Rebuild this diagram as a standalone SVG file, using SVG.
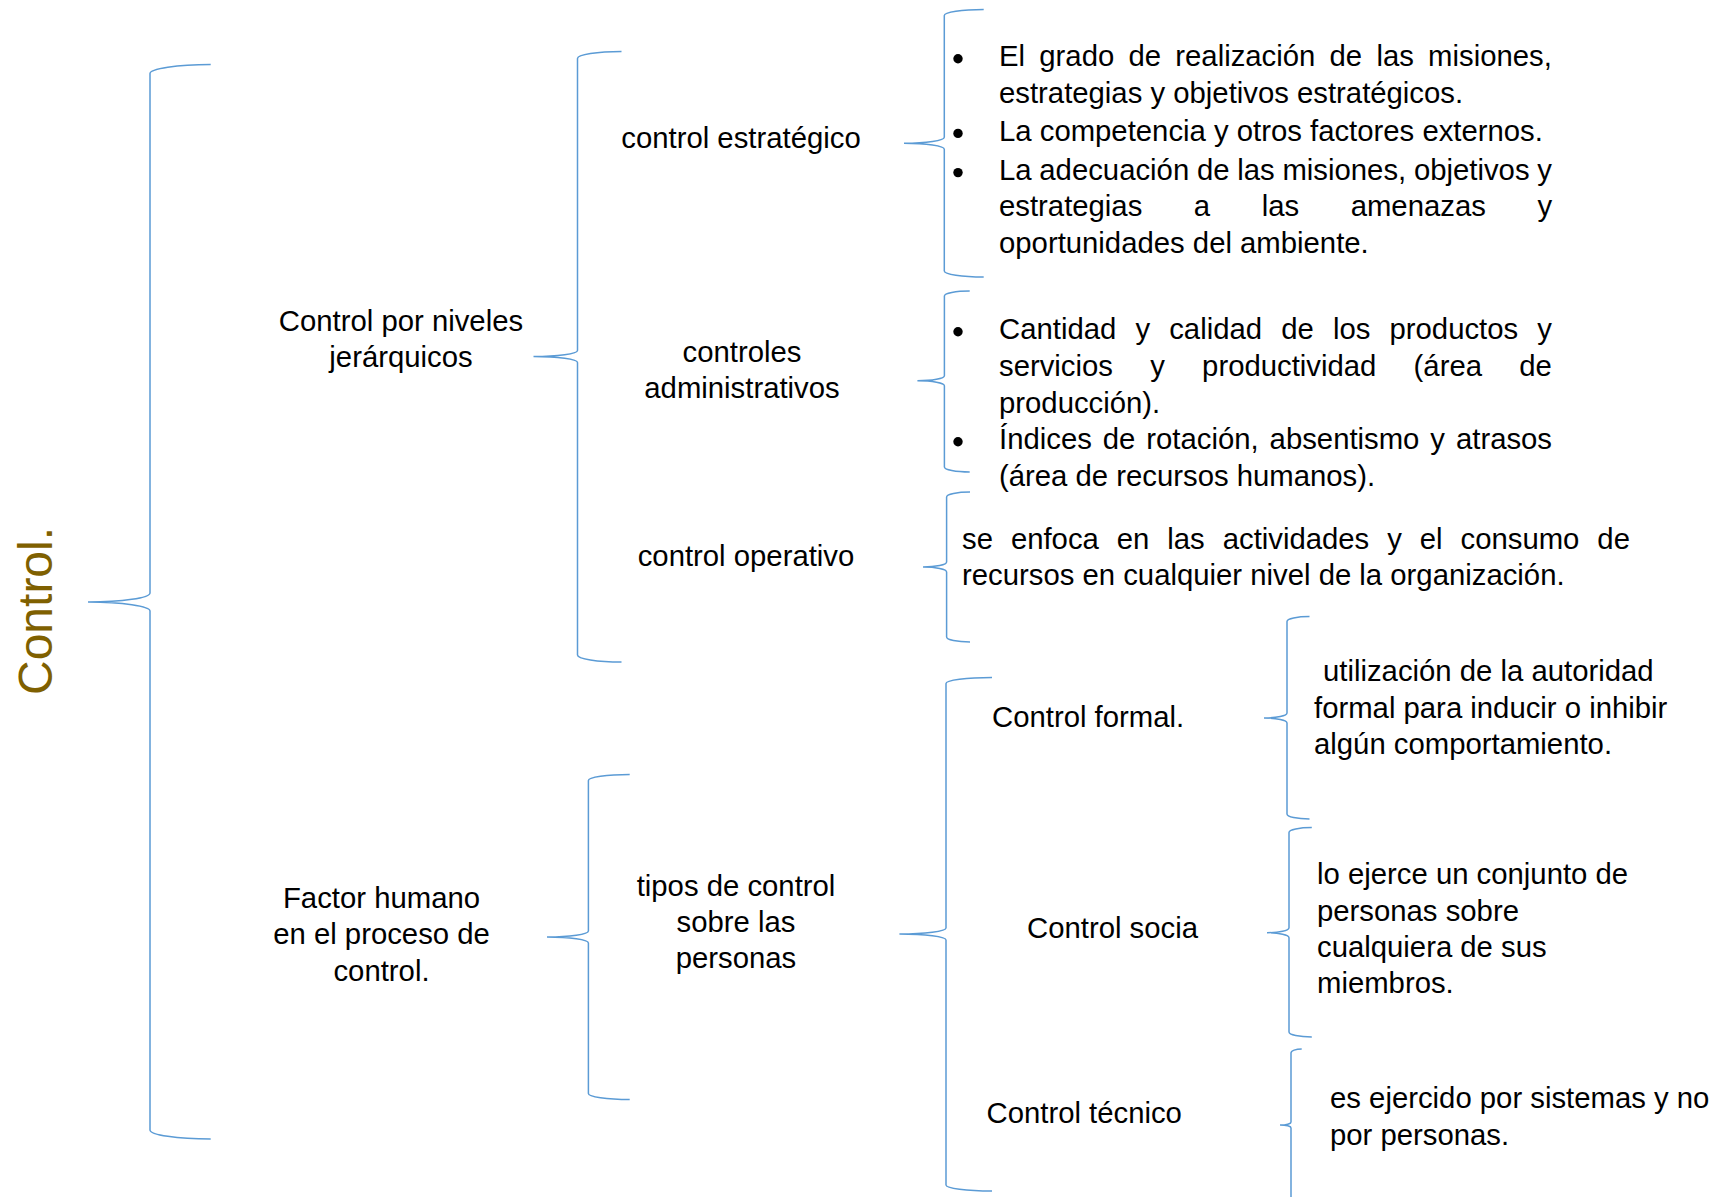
<svg xmlns="http://www.w3.org/2000/svg" width="1731" height="1197" viewBox="0 0 1731 1197">
<style>
.b{fill:none;stroke:#5B9BD5;stroke-width:1.5}
text{font-family:"Liberation Sans",Arial,sans-serif;font-size:29.3px;fill:#000}
.c{text-anchor:middle}
.title{font-size:48px;fill:#7F6000}
.dot{fill:#000}
</style>
<rect width="1731" height="1197" fill="#fff"/>
<g id="connectors">
<path class="b" d="M210.7 64.5 A60.7 9 0 0 0 150 73.5 L150 593 A62 9 0 0 1 88 602 A62 9 0 0 1 150 611 L150 1130 A60.7 9 0 0 0 210.7 1139"/>
<path class="b" d="M621.5 51.5 A44 7 0 0 0 577.5 58.5 L577.5 350.5 A44 6 0 0 1 533.5 356.5 A44 6 0 0 1 577.5 362.5 L577.5 655 A44 7 0 0 0 621.5 662"/>
<path class="b" d="M983.7 9.5 A39.4 6 0 0 0 944.3 15.5 L944.3 137.3 A40.3 6 0 0 1 904 143.3 A40.3 6 0 0 1 944.3 149.3 L944.3 271 A39.4 6 0 0 0 983.7 277"/>
<path class="b" d="M969.7 291 A25.3 5 0 0 0 944.4 296 L944.4 375.8 A27 5 0 0 1 917.4 380.8 A27 5 0 0 1 944.4 385.8 L944.4 467 A25.3 5 0 0 0 969.7 472"/>
<path class="b" d="M970 492 A23.4 5 0 0 0 946.6 497 L946.6 562 A23.6 5 0 0 1 923 567 A23.6 5 0 0 1 946.6 572 L946.6 637 A23.4 5 0 0 0 970 642"/>
<path class="b" d="M629.7 774.5 A41.3 6 0 0 0 588.4 780.5 L588.4 931 A41.4 6 0 0 1 547 937 A41.4 6 0 0 1 588.4 943 L588.4 1093.5 A41.3 6 0 0 0 629.7 1099.5"/>
<path class="b" d="M992 677.5 A46 6 0 0 0 946 683.5 L946 928 A46.6 6 0 0 1 899.4 934 A46.6 6 0 0 1 946 940 L946 1185 A46 6 0 0 0 992 1191"/>
<path class="b" d="M1309.5 616.5 A22.5 5 0 0 0 1287 621.5 L1287 713 A23 5 0 0 1 1264 718 A23 5 0 0 1 1287 723 L1287 814 A22.5 5 0 0 0 1309.5 819"/>
<path class="b" d="M1311.8 827.5 A22.8 5 0 0 0 1289 832.5 L1289 927.7 A22 5 0 0 1 1267 932.7 A22 5 0 0 1 1289 937.7 L1289 1032 A22.8 5 0 0 0 1311.8 1037"/>
<path class="b" d="M1301.7 1049 A10.7 4 0 0 0 1291 1053 L1291 1122 A11 3 0 0 1 1280 1125 A11 3 0 0 1 1291 1128 L1291 1200"/>
</g>
<g id="n-control">
<text class="title" transform="translate(52,695) rotate(-90)">Control.</text>
</g>
<g id="n-niveles">
<text class="c" x="401" y="331">Control por niveles</text>
<text class="c" x="401" y="367">jerárquicos</text>
</g>
<g id="n-factor">
<text class="c" x="381.5" y="907.5">Factor humano</text>
<text class="c" x="381.5" y="944">en el proceso de</text>
<text class="c" x="381.5" y="980.5">control.</text>
</g>
<g id="n-estrategico">
<text class="c" x="741" y="147.5">control estratégico</text>
</g>
<g id="n-administrativos">
<text class="c" x="742" y="362">controles</text>
<text class="c" x="742" y="397.5">administrativos</text>
</g>
<g id="n-operativo">
<text class="c" x="746" y="566">control operativo</text>
</g>
<g id="n-tipos">
<text class="c" x="736" y="895.5">tipos de control</text>
<text class="c" x="736" y="931.5">sobre las</text>
<text class="c" x="736" y="967.5">personas</text>
</g>
<g id="n-estrategico-items">
<circle class="dot" cx="958" cy="58.8" r="4.7"/>
<circle class="dot" cx="958" cy="133.4" r="4.7"/>
<circle class="dot" cx="958" cy="172.6" r="4.7"/>
<text x="999" y="66" word-spacing="6.1">El grado de realización de las misiones,</text>
<text x="999" y="102.7">estrategias y objetivos estratégicos.</text>
<text x="999" y="140.7">La competencia y otros factores externos.</text>
<text x="999" y="180" word-spacing="-0.4">La adecuación de las misiones, objetivos y</text>
<text x="999" y="216.3" word-spacing="43.4">estrategias a las amenazas y</text>
<text x="999" y="252.7">oportunidades del ambiente.</text>
</g>
<g id="n-administrativos-items">
<circle class="dot" cx="958" cy="331.7" r="4.7"/>
<circle class="dot" cx="958" cy="441.7" r="4.7"/>
<text x="999" y="339.3" word-spacing="11">Cantidad y calidad de los productos y</text>
<text x="999" y="376" word-spacing="29.1">servicios y productividad (área de</text>
<text x="999" y="412.7">producción).</text>
<text x="999" y="449.3" word-spacing="2.8">Índices de rotación, absentismo y atrasos</text>
<text x="999" y="486">(área de recursos humanos).</text>
</g>
<g id="n-operativo-desc">
<text x="962" y="548.5" word-spacing="9.8">se enfoca en las actividades y el consumo de</text>
<text x="962" y="585">recursos en cualquier nivel de la organización.</text>
</g>
<g id="n-formal">
<text x="992" y="727">Control formal.</text>
</g>
<g id="n-social">
<text x="1027" y="937.5">Control socia</text>
</g>
<g id="n-tecnico">
<text x="986.5" y="1122.5">Control técnico</text>
</g>
<g id="n-formal-desc">
<text x="1323" y="681"> utilización de la autoridad</text>
<text x="1314" y="717.5">formal para inducir o inhibir</text>
<text x="1314" y="754">algún comportamiento.</text>
</g>
<g id="n-social-desc">
<text x="1317" y="884">lo ejerce un conjunto de</text>
<text x="1317" y="920.5">personas sobre</text>
<text x="1317" y="957">cualquiera de sus</text>
<text x="1317" y="993">miembros.</text>
</g>
<g id="n-tecnico-desc">
<text x="1330" y="1108">es ejercido por sistemas y no</text>
<text x="1330" y="1145">por personas.</text>
</g>
</svg>
